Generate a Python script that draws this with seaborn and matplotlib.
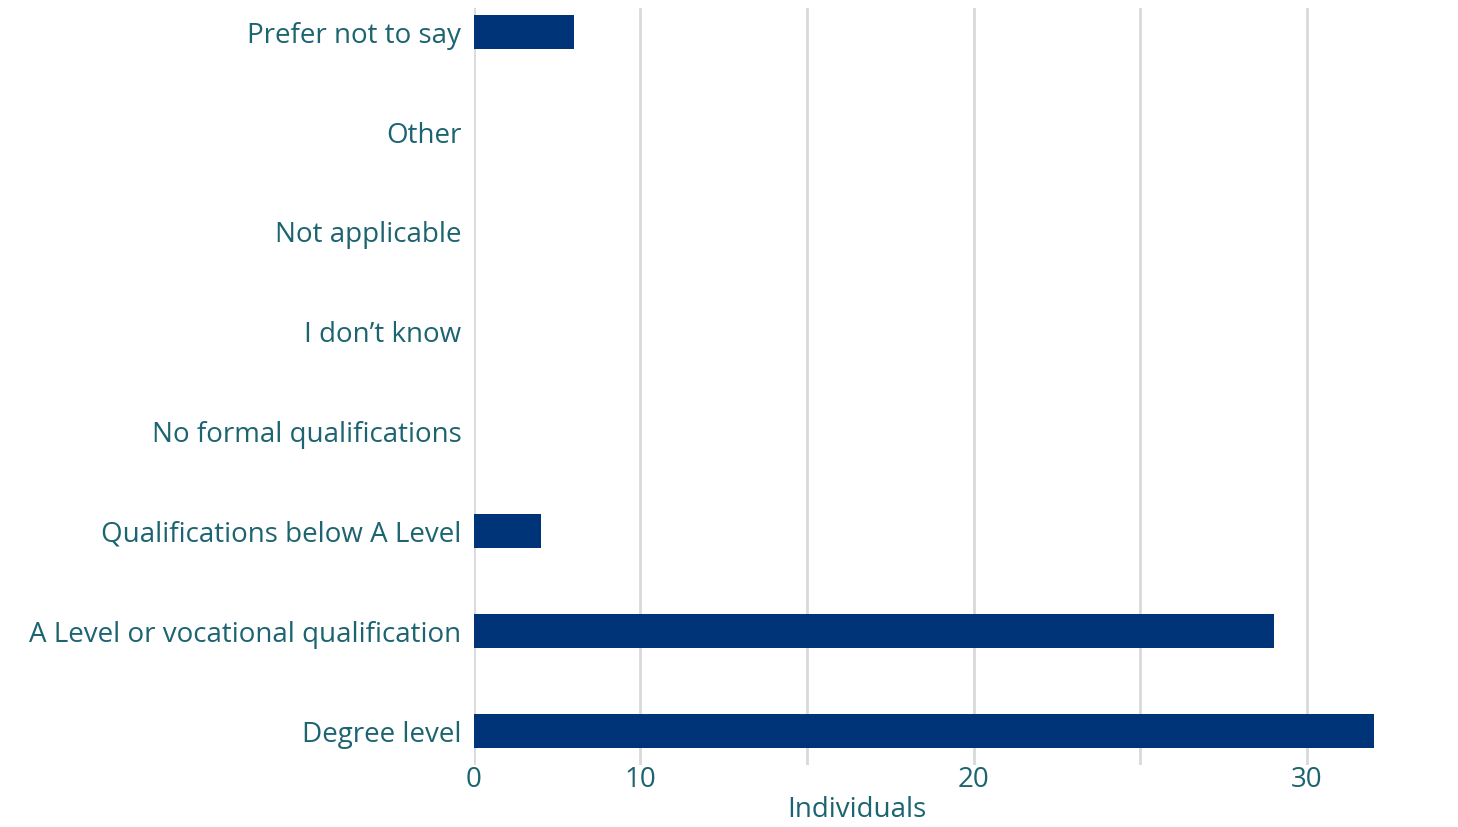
import numpy as np
import pandas as pd
import seaborn as sns
import matplotlib.pyplot as plt

# Data
categories = ['Prefer not to say', 'Other', 'Not applicable', 'I don\u2019t know',
              'No formal qualifications', 'Qualifications below A Level',
              'A Level or vocational qualification', 'Degree level']
individuals = [6, 0, 0, 0, 0, 4, 29, 32]
tick_values = [0, 10, 15, 20, 25, 30]
tick_labels = ['0', '10', '', '20', '', '30']

df = pd.DataFrame({'Qualification': categories, 'Individuals': individuals})

# the source axis is stretched above 10 (10 units per gridline below, 5 above)
def fwd(x):
    x = np.asarray(x, dtype=float)
    return np.where(x < 10, x / 10, 1 + (x - 10) / 5)

def inv(y):
    y = np.asarray(y, dtype=float)
    return np.where(y < 1, y * 10, 10 + (y - 1) * 5)

sns.set_style('white')
plt.rcParams['font.family'] = ['Open Sans', 'DejaVu Sans']
text_col = '#1b6470'

fig = plt.figure(figsize=(14.58, 8.27), dpi=100)
ax = fig.add_axes([0.325, 0.075, 0.64, 0.915])
sns.barplot(data=df, y='Qualification', x='Individuals', color='#003478',
            width=0.34, orient='h', ax=ax, saturation=1, linewidth=0)

ax.set_xscale('function', functions=(fwd, inv))
ax.set_xlim(0, 33)
ax.set_ylim(7.34, -0.24)
ax.set_xticks(tick_values)
ax.set_xticklabels(tick_labels)
ax.xaxis.grid(True, color='#d9d9d9', linewidth=2)
ax.set_axisbelow(True)
for s in ax.spines.values():
    s.set_visible(False)

ax.tick_params(axis='both', length=0, labelsize=20, labelcolor=text_col)
ax.tick_params(axis='y', pad=9)
ax.tick_params(axis='x', pad=1)
ax.set_ylabel('')
ax.set_xlabel('Individuals', fontsize=20, color=text_col)
ax.xaxis.set_label_coords(0.411, -0.041)

fig.savefig('out.png', dpi=100)
